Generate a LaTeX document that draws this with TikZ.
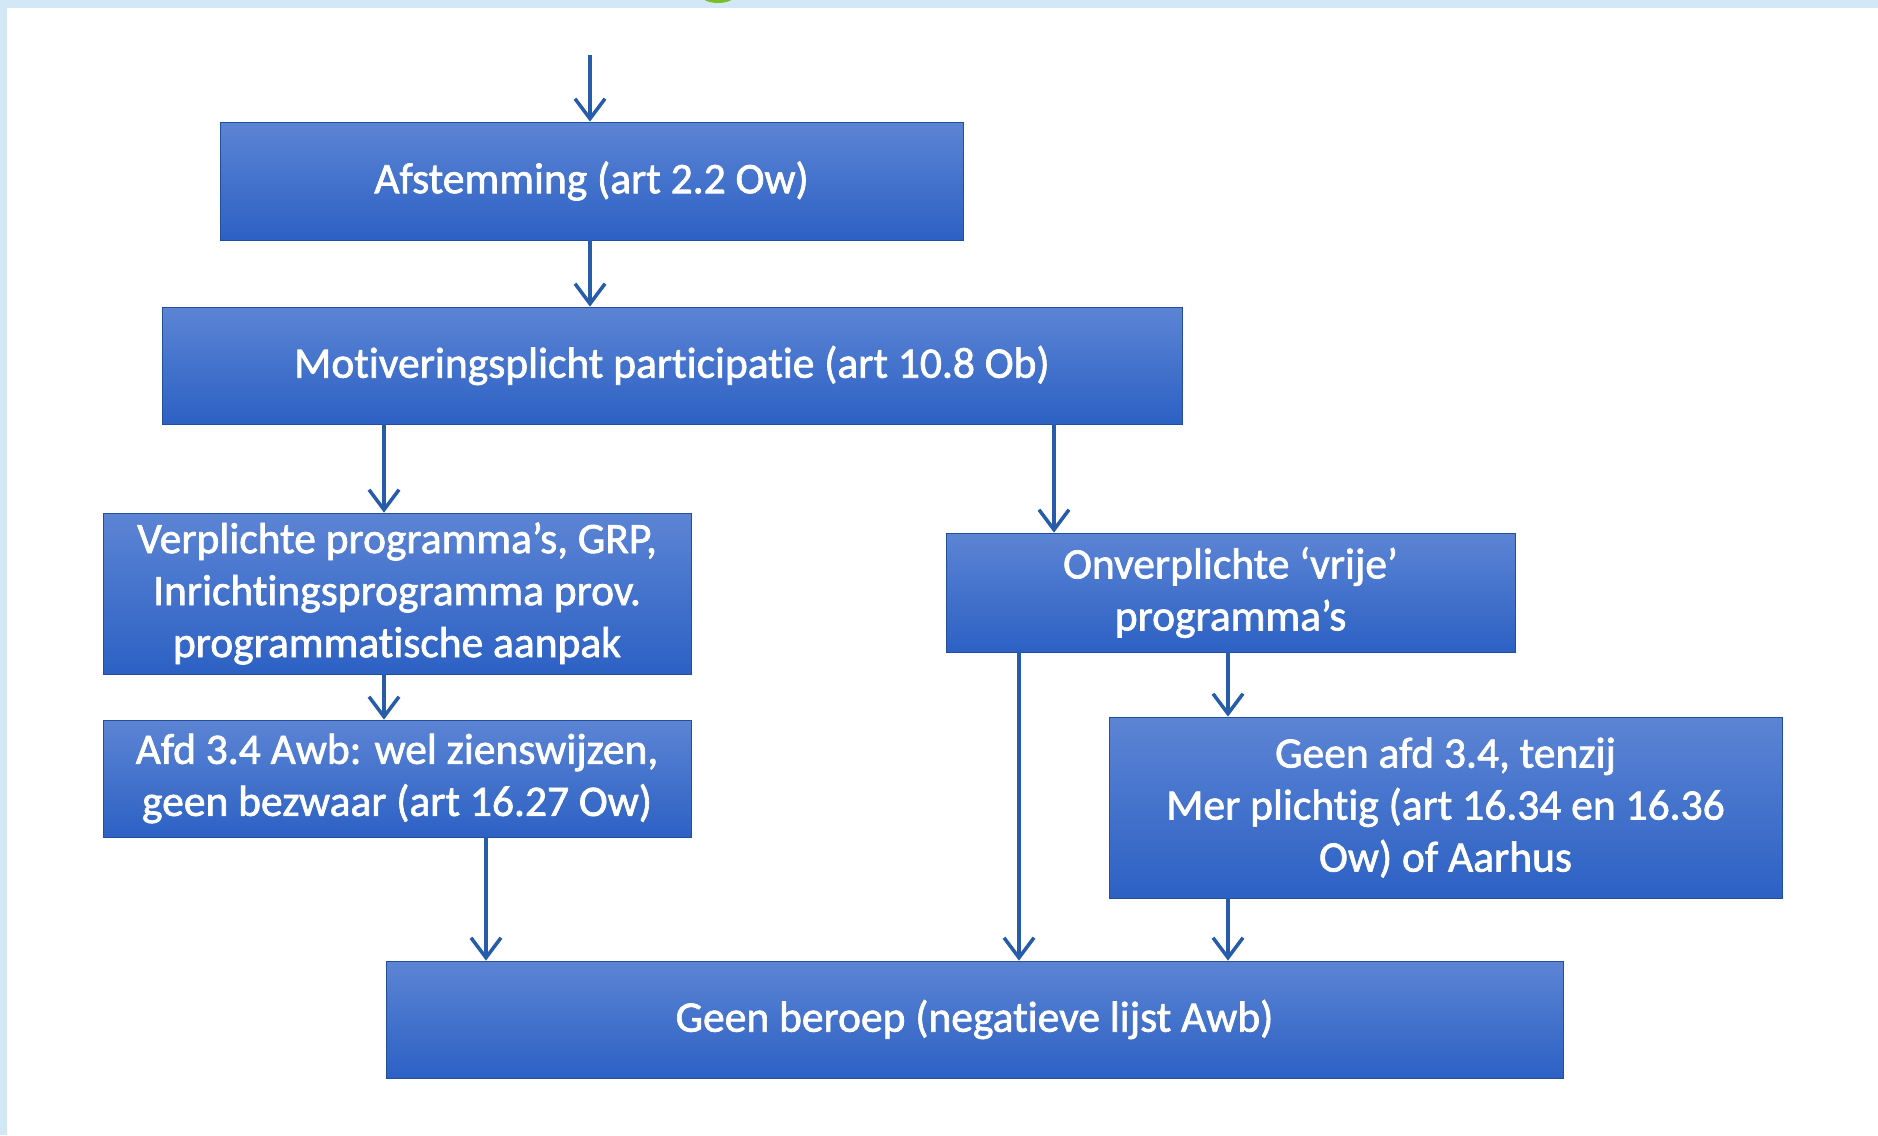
\documentclass[tikz,border=0pt]{standalone}
\usepackage{fontspec}
\setmainfont{Carlito}
\newfontfamily\boxfont{Carlito}[FakeBold=1.6, Ligatures=CommonOff]
\usetikzlibrary{arrows.meta}
\definecolor{band}{RGB}{211,232,247}
\definecolor{boxtop}{RGB}{92,132,212}
\definecolor{boxbot}{RGB}{44,97,196}
\definecolor{arrowc}{RGB}{38,92,170}
\definecolor{greenc}{RGB}{120,190,40}
\tikzset{
  flowbox/.style={rectangle, top color=boxtop, bottom color=boxbot, draw=boxbot!80!black, line width=0.8pt,
    text=white, align=center, inner sep=0pt,
    font=\boxfont\fontsize{43.5}{52}\selectfont},
  arr/.style={draw=arrowc, line width=3.5pt, -{Straight Barb[length=20pt,width=30pt,line width=3.5pt]}}
}
\begin{document}
\begin{tikzpicture}[x=1pt,y=-1pt]
\useasboundingbox (0,0) rectangle (1878,1135);
\fill[white] (0,0) rectangle (1878,1135);
\fill[band] (0,0) rectangle (1878,8);
\fill[band] (0,0) rectangle (7,1135);
\fill[greenc] (718,-6) ellipse[x radius=18, y radius=9];
% nodes
\node[flowbox, minimum width=743pt, minimum height=118pt] (b1) at (591.5,181) {Afstemming (art 2.2 Ow)};
\node[flowbox, minimum width=1020pt, minimum height=117pt] (b2) at (672,365.5) {Motiveringsplicht participatie (art 10.8 Ob)};
\node[flowbox, minimum width=588pt, minimum height=161pt] (b3) at (397,593.5) {Verplichte programma’s, GRP,\\Inrichtingsprogramma prov.\\programmatische aanpak};
\node[flowbox, minimum width=588pt, minimum height=117pt] (b4) at (397,778.5) {Afd 3.4 Awb: wel zienswijzen,\\geen bezwaar (art 16.27 Ow)};
\node[flowbox, minimum width=569pt, minimum height=119pt] (b5) at (1230.5,592.5) {Onverplichte ‘vrije’\\programma’s};
\node[flowbox, minimum width=673pt, minimum height=181pt] (b6) at (1445.5,807.5) {Geen afd 3.4, tenzij\\Mer plichtig (art 16.34 en 16.36\\Ow) of Aarhus};
\node[flowbox, minimum width=1177pt, minimum height=117pt] (b7) at (974.5,1019.5) {Geen beroep (negatieve lijst Awb)};
% helper coordinates
\coordinate (start) at (590,55);
\coordinate (xa) at (590,0);
\coordinate (xb) at (384,0);
\coordinate (xc) at (1054,0);
\coordinate (xd) at (486,0);
\coordinate (xe) at (1019,0);
\coordinate (xf) at (1228,0);
% connectors
\draw[arr] (start) -- (b1.north -| xa);
\draw[arr] (b1.south -| xa) -- (b2.north -| xa);
\draw[arr] (b2.south -| xb) -- (b3.north -| xb);
\draw[arr] (b2.south -| xc) -- (b5.north -| xc);
\draw[arr] (b3.south -| xb) -- (b4.north -| xb);
\draw[arr] (b4.south -| xd) -- (b7.north -| xd);
\draw[arr] (b5.south -| xe) -- (b7.north -| xe);
\draw[arr] (b5.south -| xf) -- (b6.north -| xf);
\draw[arr] (b6.south -| xf) -- (b7.north -| xf);
\end{tikzpicture}
\end{document}
